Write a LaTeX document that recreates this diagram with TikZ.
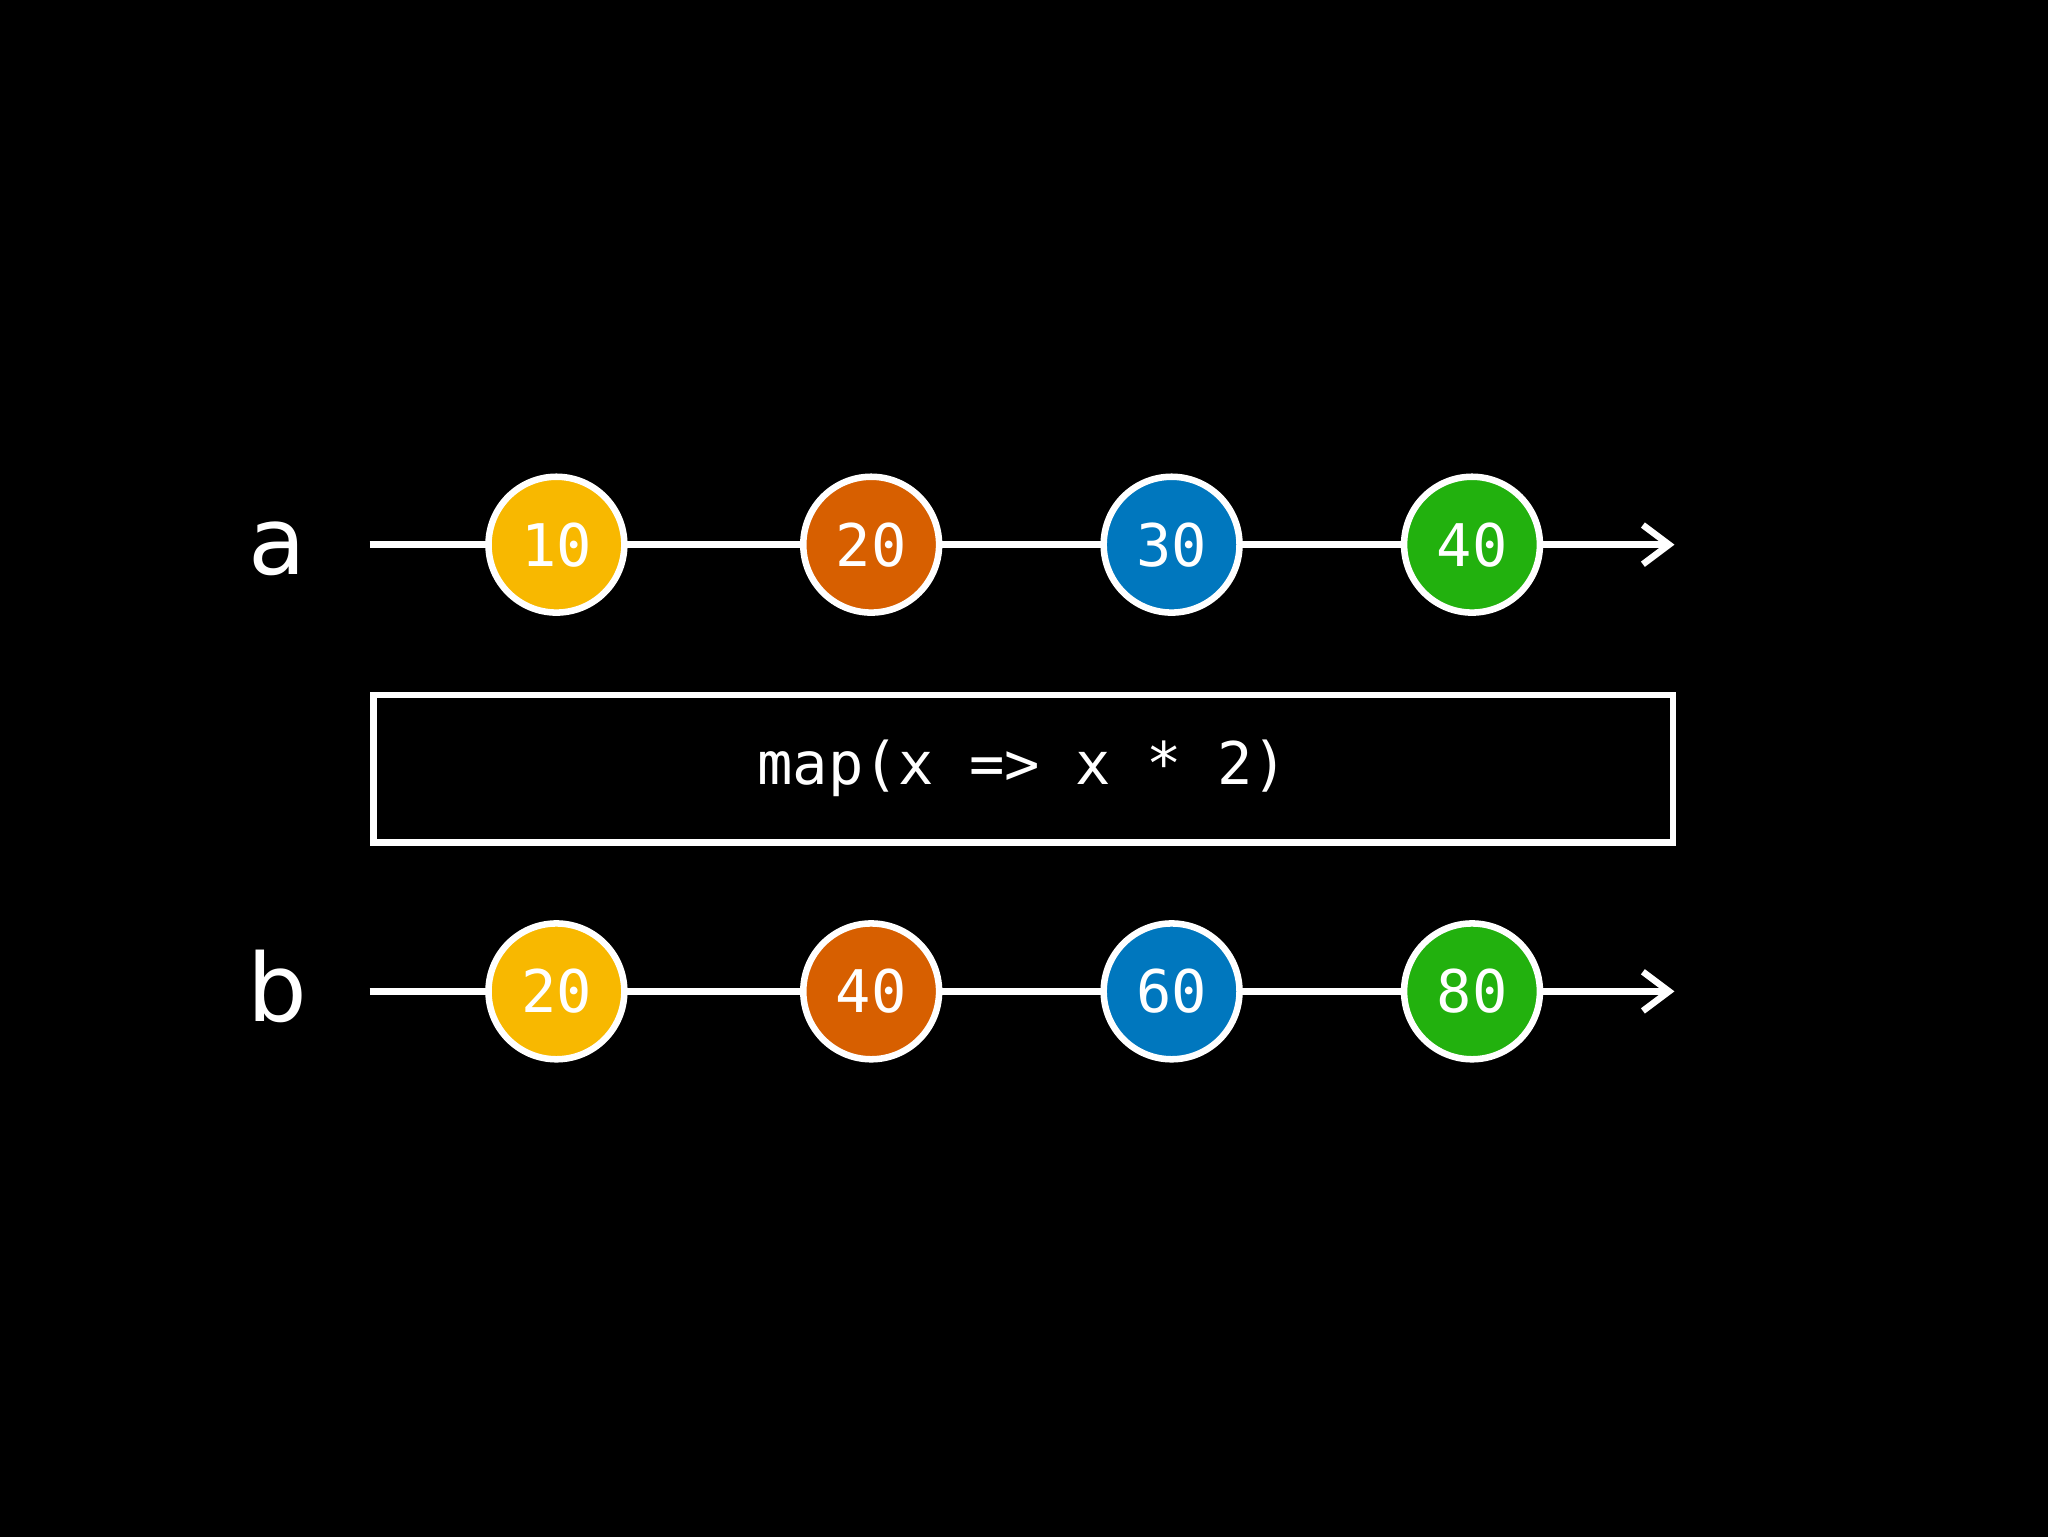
\documentclass[tikz,border=0pt]{standalone}
\usepackage{fontspec}
\setmainfont{DejaVu Sans}
\newfontfamily\mono{DejaVu Sans Mono}
\usetikzlibrary{arrows.meta}
\definecolor{cy}{HTML}{F8B800}
\definecolor{co}{HTML}{D75F00}
\definecolor{cb}{HTML}{0077BE}
\definecolor{cg}{HTML}{22B10E}
\tikzset{
  marble/.style={circle,draw=white,line width=5pt,minimum size=104pt,inner sep=0pt,text=white,font=\mono\fontsize{45}{45}\selectfont},
  axis/.style={white,line width=5pt,-{Straight Barb[length=20pt,width=30pt,line width=5pt]}},
  lab/.style={text=white,font=\fontsize{72}{72}\selectfont},
}
\begin{document}
\begin{tikzpicture}[x=1pt,y=-1pt]
\useasboundingbox (0,0) rectangle (1568,1176);
\fill[black] (-5,-5) rectangle (1573,1181);
\node[lab] (la) at (212,420) {a};
\node[lab] (lb) at (212,755) {b};
\coordinate (sa) at (283,417); \coordinate (ea) at (1282,417);
\coordinate (sb) at (283,759); \coordinate (eb) at (1282,759);
\draw[axis] (sa) -- (ea);
\draw[axis] (sb) -- (eb);
\node[marble,fill=cy] (a1) at (426,417) {10};
\node[marble,fill=co] (a2) at (667,417) {20};
\node[marble,fill=cb] (a3) at (897,417) {30};
\node[marble,fill=cg] (a4) at (1127,417) {40};
\node[marble,fill=cy] (b1) at (426,759) {20};
\node[marble,fill=co] (b2) at (667,759) {40};
\node[marble,fill=cb] (b3) at (897,759) {60};
\node[marble,fill=cg] (b4) at (1127,759) {80};
\draw[white,line width=5pt] (286,532) rectangle (1281,645);
\node[text=white,font=\mono\fontsize{45}{45}\selectfont] (op) at (783,588) {map(x => x * 2)};
\end{tikzpicture}
\end{document}
